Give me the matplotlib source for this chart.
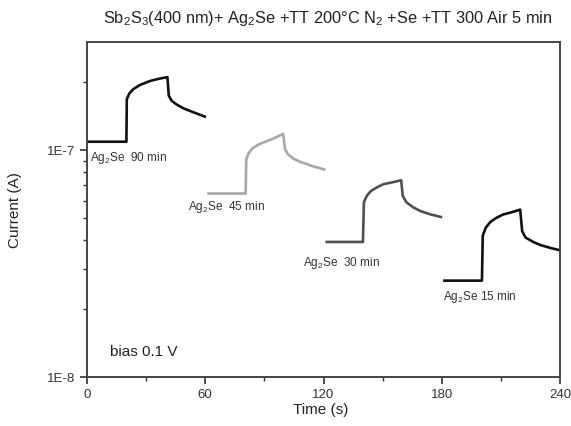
import matplotlib
matplotlib.use("Agg")
import matplotlib.pyplot as plt
from matplotlib.ticker import FixedLocator, FixedFormatter, NullFormatter

plt.rcParams['font.family'] = ['Liberation Sans', 'DejaVu Sans']
plt.rcParams['mathtext.default'] = 'regular'

# Data (time in s, current in A)
t90 = [0, 20, 20.2, 21.5, 23.5, 26.9, 32, 37, 40.8, 41.5, 43, 45.5, 48.9, 54, 60.4]
i90 = [1.09e-7, 1.09e-7, 1.68e-7, 1.78e-7, 1.86e-7, 1.94e-7, 2.02e-7, 2.07e-7, 2.10e-7,
       1.74e-7, 1.65e-7, 1.59e-7, 1.53e-7, 1.47e-7, 1.40e-7]

t45 = [61, 80.5, 80.8, 82, 84, 87, 90.5, 95, 99.5, 100.5, 102, 104.5, 108, 114.5, 121]
i45 = [6.44e-8, 6.44e-8, 9.1e-8, 9.7e-8, 1.02e-7, 1.06e-7, 1.09e-7, 1.13e-7, 1.18e-7,
       1.01e-7, 9.6e-8, 9.2e-8, 8.9e-8, 8.5e-8, 8.2e-8]

t30 = [121, 140, 140.5, 142, 144, 147, 150.3, 155, 159.4, 160.2, 162, 165.5, 169, 174, 180.2]
i30 = [3.94e-8, 3.94e-8, 5.9e-8, 6.3e-8, 6.6e-8, 6.85e-8, 7.08e-8, 7.22e-8, 7.37e-8,
       6.3e-8, 5.9e-8, 5.6e-8, 5.4e-8, 5.22e-8, 5.06e-8]

t15 = [180.7, 200.4, 200.8, 202.3, 204.6, 207.5, 211, 215.5, 219.8, 220.8, 222.5, 226.4, 230, 235, 240]
i15 = [2.66e-8, 2.66e-8, 4.2e-8, 4.55e-8, 4.82e-8, 5.02e-8, 5.2e-8, 5.33e-8, 5.47e-8,
       4.4e-8, 4.12e-8, 3.94e-8, 3.82e-8, 3.71e-8, 3.62e-8]

labels = ['Ag$_2$Se  90 min', 'Ag$_2$Se  45 min', 'Ag$_2$Se  30 min', 'Ag$_2$Se 15 min']
xticks = [0, 60, 120, 180, 240]
yticks = [1e-8, 1e-7]
ytick_labels = ['1E-8', '1E-7']

fig = plt.figure(figsize=(5.71, 4.26), dpi=100)
ax = fig.add_axes([87/571, 1-377/426, (560-87)/571, (377-42)/426])

lw = 1.9
for t, i, c in [(t90, i90, '#111111'), (t45, i45, '#a8a8a8'),
                (t30, i30, '#505050'), (t15, i15, '#111111')]:
    ax.plot(t, i, color=c, lw=lw, solid_joinstyle='round', solid_capstyle='butt')

ax.set_yscale('log')
ax.set_xlim(0, 240)
ax.set_ylim(1e-8, 3e-7)

ax.xaxis.set_major_locator(FixedLocator(xticks))
ax.xaxis.set_minor_locator(FixedLocator([30, 90, 150, 210]))
ax.yaxis.set_major_locator(FixedLocator(yticks))
ax.yaxis.set_major_formatter(FixedFormatter(ytick_labels))
ax.yaxis.set_minor_locator(FixedLocator([k*1e-8 for k in range(2, 10)] + [2e-7]))
ax.yaxis.set_minor_formatter(NullFormatter())

ax.tick_params(which='major', direction='out', length=5, width=1.2, labelsize=9.5, colors='#333333', labelcolor='#333333')
ax.tick_params(which='minor', direction='out', length=3, width=1.0, colors='#333333')
for s in ax.spines.values():
    s.set_linewidth(1.4)
    s.set_color('#444444')

# annotations
tfs = 8.5
ax.text(1.5, 9.2e-8, labels[0], fontsize=tfs, color='#333333', va='center', ha='left')
ax.text(51.3, 5.6e-8, labels[1], fontsize=tfs, color='#333333', va='center', ha='left')
ax.text(109.6, 3.19e-8, labels[2], fontsize=tfs, color='#333333', va='center', ha='left')
ax.text(180.5, 2.26e-8, labels[3], fontsize=tfs, color='#333333', va='center', ha='left')
ax.text(11.5, 1.29e-8, 'bias 0.1 V', fontsize=11, color='#222222', va='center', ha='left')

fig.text(328/571, 1-18/426, 'Sb$_2$S$_3$(400 nm)+ Ag$_2$Se +TT 200°C N$_2$ +Se +TT 300 Air 5 min',
         fontsize=11.8, ha='center', va='center', color='#222222')
fig.text(321/571, 1-410/426, 'Time (s)', fontsize=11, ha='center', va='center', color='#222222')
fig.text(15/571, 1-210/426, 'Current (A)', fontsize=11, ha='center', va='center', rotation=90, color='#222222')

fig.savefig('out.png', dpi=100)
